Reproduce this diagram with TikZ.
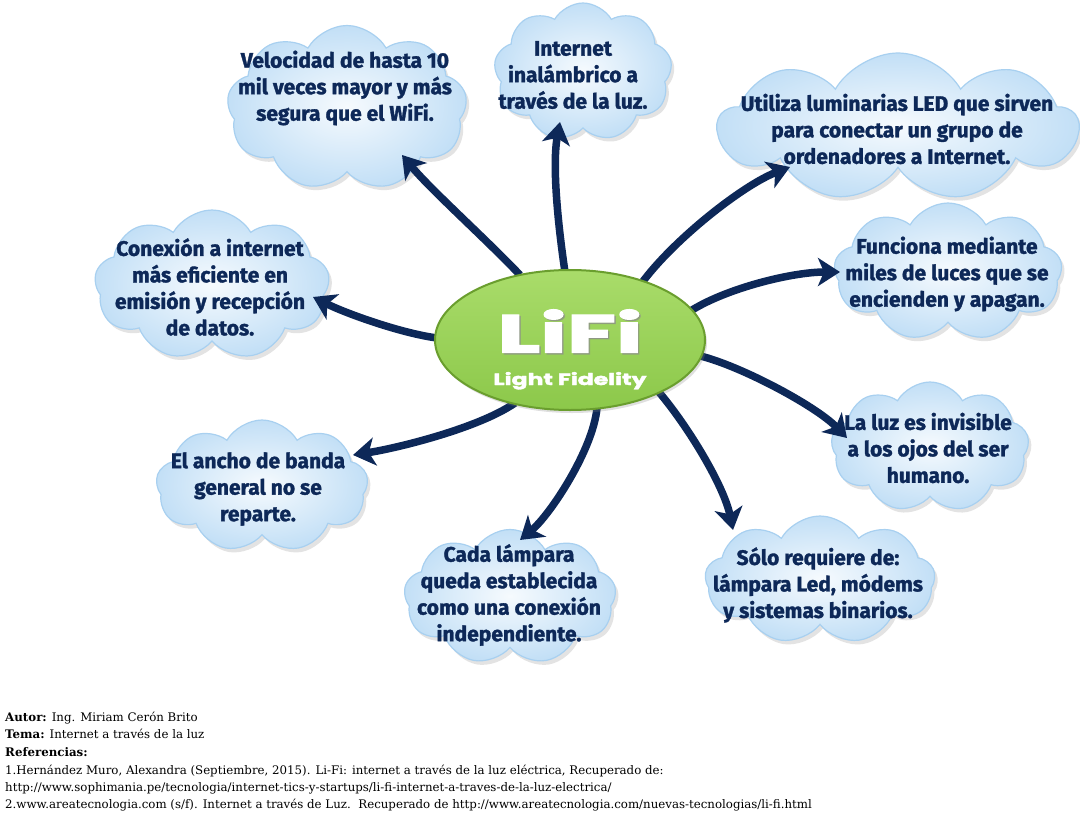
\documentclass[tikz,border=0pt]{standalone}
\usepackage{fontspec}
\setmainfont{DejaVu Serif}
\newfontfamily\cloudfont{Fira Sans}[BoldFeatures={FakeBold=1.5}]
\newfontfamily\logofont{Poppins}[BoldFeatures={FakeBold=2}]
\usetikzlibrary{shapes.symbols,shapes.geometric,shadows,arrows.meta}
\definecolor{navy}{HTML}{0D2858}
\definecolor{cloudblue}{HTML}{C2DFF6}
\definecolor{cloudedge}{HTML}{A8D0F0}
\definecolor{lifigreen}{HTML}{8CC84A}
\definecolor{lifigreenlight}{HTML}{A9DC6A}
\definecolor{lifiedge}{HTML}{6A9E2E}
\tikzset{
  cloudbox/.style={cloud, cloud puffs=9, cloud puff arc=120, cloud ignores aspect,
    draw=cloudedge, line width=1.2pt, inner color=white!85!cloudblue, outer color=cloudblue,
    drop shadow={opacity=0.22, shadow xshift=3pt, shadow yshift=-4pt}},
  cloudtext/.style={font=\cloudfont\bfseries\fontsize{21}{26.5}\selectfont, text=navy, align=center, inner sep=0pt},
  arr/.style={draw=navy, line width=7.5pt, -{Stealth[length=22pt,width=28pt,inset=6pt]}},
  reftext/.style={anchor=base west, inner sep=0pt, font=\fontsize{11.8}{13}\selectfont},
}
\begin{document}
\begin{tikzpicture}[x=1pt,y=-1pt]
\useasboundingbox[fill=white] (0,0) rectangle (1080,835);

% clouds
\node[cloudbox, minimum width=240pt, minimum height=165pt] (c1) at (347,108) {};
\node[cloudbox, minimum width=178pt, minimum height=138pt] (c2) at (583,72) {};
\node[cloudbox, minimum width=360pt, minimum height=148pt] (c3) at (898,127) {};
\node[cloudbox, minimum width=228pt, minimum height=138pt] (c4) at (948,272) {};
\node[cloudbox, minimum width=198pt, minimum height=130pt] (c5) at (930,447) {};
\node[cloudbox, minimum width=230pt, minimum height=128pt] (c6) at (820,580) {};
\node[cloudbox, minimum width=212pt, minimum height=135pt] (c7) at (510,597) {};
\node[cloudbox, minimum width=212pt, minimum height=132pt] (c8) at (262,486) {};
\node[cloudbox, minimum width=235pt, minimum height=150pt] (c9) at (212,285) {};

% cloud texts
\node[cloudtext] (t1) at (345,88) {Velocidad de hasta 10\\mil veces mayor y más\\segura que el WiFi.};
\node[cloudtext] (t2) at (573,75) {Internet\\inalámbrico a\\través de la luz.};
\node[cloudtext] (t3) at (897,129) {Utiliza luminarias LED que sirven\\para conectar un grupo de\\ordenadores a Internet.};
\node[cloudtext] (t4) at (947,274) {Funciona mediante\\miles de luces que se\\encienden y apagan.};
\node[cloudtext] (t5) at (928,448) {La luz es invisible\\a los ojos del ser\\humano.};
\node[cloudtext] (t6) at (818,585) {Sólo requiere de:\\lámpara Led, módems\\y sistemas binarios.};
\node[cloudtext] (t7) at (509,595) {Cada lámpara\\queda establecida\\como una conexión\\independiente.};
\node[cloudtext] (t8) at (258,489) {El ancho de banda\\general no se\\reparte.};
\node[cloudtext] (t9) at (210,287) {Conexión a internet\\más eficiente en\\emisión y recepción\\de datos.};

% arrow end points
\coordinate (s1) at (520,275); \coordinate (e1) at (402,155);
\coordinate (s2) at (565,272); \coordinate (e2) at (560,122);
\coordinate (s3) at (641,284); \coordinate (e3) at (790,167);
\coordinate (s4) at (686,314); \coordinate (e4) at (840,272);
\coordinate (s5) at (696,355); \coordinate (e5) at (847,438);
\coordinate (s6) at (658,391); \coordinate (e6) at (733,530);
\coordinate (s7) at (597,408); \coordinate (e7) at (520,540);
\coordinate (s8) at (515,403); \coordinate (e8) at (353,455);
\coordinate (s9) at (437,338); \coordinate (e9) at (313,297);

\draw[arr] (s1) .. controls (488,241) and (431,190) .. (e1);
\draw[arr] (s2) .. controls (558,225) and (552,165) .. (e2);
\draw[arr] (s3) .. controls (673,240) and (743,185) .. (e3);
\draw[arr] (s4) .. controls (720,290) and (790,272) .. (e4);
\draw[arr] (s5) .. controls (735,363) and (815,405) .. (e5);
\draw[arr] (s6) .. controls (688,426) and (724,486) .. (e6);
\draw[arr] (s7) .. controls (593,450) and (550,515) .. (e7);
\draw[arr] (s8) .. controls (479,428) and (398,448) .. (e8);
\draw[arr] (s9) .. controls (400,333) and (345,313) .. (e9);

% central ellipse
\node[ellipse, minimum width=270pt, minimum height=140pt, top color=lifigreenlight,
      bottom color=lifigreen, draw=lifiedge, line width=2pt,
      drop shadow={opacity=0.25, shadow xshift=2pt, shadow yshift=-3pt}] (lifi) at (570,340) {};
\node[text=black!45, opacity=0.6, inner sep=0pt] (lifishadow) at (571.5,332.5) {\logofont\bfseries\resizebox{145pt}{43pt}{LiFi}};
\node[text=white, inner sep=0pt] (lifititle) at (570,331) {\logofont\bfseries\resizebox{145pt}{43pt}{LiFi}};
\node[text=white, inner sep=0pt, anchor=base] (lifisub) at (570,385) {\logofont\bfseries\resizebox{153pt}{13pt}{Light Fidelity}};

% references
\node[reftext] (autor) at (5,721) {\textbf{Autor:} Ing. Miriam Cerón Brito};
\node[reftext] (tema) at (5,738) {\textbf{Tema:} Internet a través de la luz};
\node[reftext] (refs) at (5,756) {\textbf{Referencias:}};
\node[reftext] (ref1) at (5,774) {1.Hernández Muro, Alexandra (Septiembre, 2015). Li-Fi: internet a través de la luz eléctrica, Recuperado de:};
\node[reftext] (ref1b) at (5,791) {http://www.sophimania.pe/tecnologia/internet-tics-y-startups/li-fi-internet-a-traves-de-la-luz-electrica/};
\node[reftext] (ref2) at (5,808) {2.www.areatecnologia.com (s/f). Internet a través de Luz.\ \ Recuperado de http://www.areatecnologia.com/nuevas-tecnologias/li-fi.html};
\end{tikzpicture}
\end{document}
